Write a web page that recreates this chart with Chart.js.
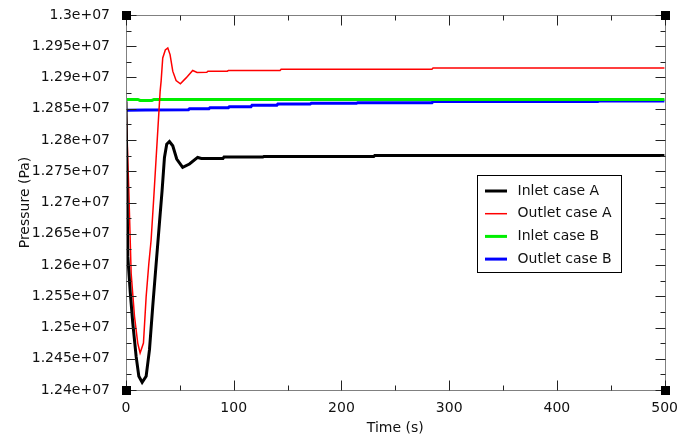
<!DOCTYPE html>
<html>
<head>
<meta charset="utf-8">
<script src="https://cdn.jsdelivr.net/npm/chart.js@4"></script>
<style>
  html, body { margin: 0; padding: 0; background: #fff; }
  #wrap { width: 680px; height: 439px; }
</style>
</head>
<body>
<div id="wrap"><canvas id="pressure-chart" width="680" height="439"></canvas></div>
<script>
// series (time in s, pressure in Pa)
const seriesLabels = ['Inlet case A', 'Outlet case A', 'Inlet case B', 'Outlet case B'];
const seriesColors = ['#000000', '#ff0000', '#00ee00', '#0000ff'];
const seriesWidths = [3, 1.5, 3, 3];

const inletATime = [0, 1.7, 4, 6.3, 9.4, 11.9, 15, 18.7, 21.8, 24.8, 28, 31, 33.5, 35.7, 37.8, 40.3, 43.4, 47.1, 52.6, 58.9, 66.5, 70, 90, 91, 127, 128, 230, 231, 500];
const inletAValues = [12862000, 12613000, 12555000, 12507000, 12453800, 12422000, 12412400, 12422000, 12464500, 12533400, 12602400, 12666100, 12719100, 12772100, 12793400, 12797600, 12790700, 12769600, 12756200, 12761600, 12772100, 12770500, 12770500, 12772700, 12772700, 12773700, 12773700, 12775300, 12775300];

const outletATime = [0, 2.6, 4.8, 7.9, 10.9, 13.1, 16.2, 18.7, 21.2, 23.3, 25.8, 28, 31.7, 32.6, 34.1, 36.5, 38.8, 40.9, 43.4, 46.5, 50.5, 55.8, 61.9, 66, 75, 76, 94, 95, 143, 144, 284, 285, 500];
const outletAValues = [12860000, 12719100, 12586500, 12517500, 12475100, 12459200, 12475100, 12549300, 12602400, 12639500, 12708400, 12772100, 12878200, 12894200, 12931200, 12944000, 12947200, 12936700, 12910100, 12895000, 12889900, 12899400, 12911200, 12908000, 12908500, 12910100, 12910100, 12911200, 12911200, 12913300, 12913300, 12915300, 12915300];

const inletBTime = [0, 11, 13, 24, 26, 500];
const inletBValues = [12865000, 12865000, 12863300, 12863300, 12865000, 12865000];

const outletBTime = [0, 18, 58, 59, 77, 78, 95, 96, 116, 117, 140, 141, 171, 172, 214, 215, 284, 285, 438, 439, 500];
const outletBValues = [12847500, 12848000, 12848500, 12850100, 12850100, 12851700, 12851700, 12853400, 12853400, 12855500, 12855500, 12857600, 12857600, 12858700, 12858700, 12859600, 12859600, 12861600, 12861600, 12862300, 12862300];

const xMin = 0, xMax = 500, xStep = 100;
const yMin = 12400000, yMax = 13000000, yStep = 50000;

const times = [inletATime, outletATime, inletBTime, outletBTime];
const values = [inletAValues, outletAValues, inletBValues, outletBValues];

const FONT = 'DejaVu Sans';

function toPoints(t, v) {
  return t.map((x, i) => ({ x: x, y: v[i] }));
}

function sciLabel(v) {
  const m = parseFloat((v / 1e7).toFixed(4));
  return m + 'e+07';
}

// frame, inward ticks, corner squares and boxed legend
const framePlugin = {
  id: 'frame',
  afterDatasetsDraw(chart) {
    const { ctx, chartArea: a, scales } = chart;
    const xs = scales.x, ys = scales.y;
    const L = Math.round(a.left) + 0.5, R = Math.round(a.right) + 0.5;
    const T = Math.round(a.top) + 0.5, B = Math.round(a.bottom) + 0.5;
    ctx.save();
    ctx.strokeStyle = '#808080';
    ctx.lineWidth = 1;
    ctx.strokeRect(L, T, R - L, B - T);

    ctx.strokeStyle = '#222';
    ctx.beginPath();
    for (let v = xMin; v <= xMax; v += xStep / 2) {
      const px = Math.round(xs.getPixelForValue(v)) + 0.5;
      const len = (v % xStep === 0) ? 10 : 5;
      ctx.moveTo(px, B); ctx.lineTo(px, B - len);
      ctx.moveTo(px, T); ctx.lineTo(px, T + len);
    }
    for (let v = yMin; v <= yMax; v += yStep / 2) {
      const py = Math.round(ys.getPixelForValue(v)) + 0.5;
      const len = ((v - yMin) % yStep === 0) ? 10 : 5;
      ctx.moveTo(L, py); ctx.lineTo(L + len, py);
      ctx.moveTo(R, py); ctx.lineTo(R - len, py);
    }
    ctx.stroke();

    ctx.fillStyle = '#000';
    [[L, T], [R, T], [L, B], [R, B]].forEach(([x, y]) => ctx.fillRect(x - 4.5, y - 4.5, 9, 9));

    // legend
    const lx = 477.5, ly = 175.5, lw = 144, lh = 97;
    ctx.fillStyle = '#fff';
    ctx.fillRect(lx, ly, lw, lh);
    ctx.strokeStyle = '#000';
    ctx.lineWidth = 1;
    ctx.strokeRect(lx, ly, lw, lh);
    ctx.font = '14px "' + FONT + '"';
    ctx.textBaseline = 'middle';
    ctx.textAlign = 'left';
    chart.data.datasets.forEach((ds, i) => {
      const y = ly + 15.5 + i * 22.7;
      ctx.strokeStyle = ds.borderColor;
      ctx.lineWidth = ds.borderWidth;
      ctx.beginPath();
      ctx.moveTo(lx + 7.5, y); ctx.lineTo(lx + 29.5, y);
      ctx.stroke();
      ctx.fillStyle = '#111';
      ctx.fillText(ds.label, lx + 40, y);
    });
    ctx.restore();
  }
};

const ctx = document.getElementById('pressure-chart').getContext('2d');
new Chart(ctx, {
  type: 'line',
  data: {
    datasets: seriesLabels.map((label, i) => ({
      label: label,
      data: toPoints(times[i], values[i]),
      borderColor: seriesColors[i],
      borderWidth: seriesWidths[i],
      pointRadius: 0,
      tension: 0,
      fill: false
    }))
  },
  options: {
    responsive: false,
    animation: false,
    layout: { padding: { top: 13, right: 6, left: 0, bottom: 0 } },
    plugins: { legend: { display: false }, tooltip: { enabled: false } },
    scales: {
      x: {
        type: 'linear',
        min: xMin, max: xMax,
        grid: { display: false },
        border: { display: false },
        ticks: { stepSize: xStep, padding: 2, color: '#111', font: { family: FONT, size: 14 }, maxRotation: 0 },
        title: { display: true, text: 'Time (s)', color: '#111', font: { family: FONT, size: 14 }, padding: { top: 0, bottom: 2 } },
        afterFit: s => { s.height = 49; }
      },
      y: {
        min: yMin, max: yMax,
        grid: { display: false },
        border: { display: false },
        ticks: { stepSize: yStep, padding: 8, color: '#111', font: { family: FONT, size: 14, lineHeight: 1 }, callback: v => sciLabel(v) },
        title: { display: true, text: 'Pressure (Pa)', color: '#111', font: { family: FONT, size: 14 }, padding: { top: 17, bottom: 0 } },
        afterFit: s => { s.width = 126; }
      }
    }
  },
  plugins: [framePlugin]
});
</script>
</body>
</html>
